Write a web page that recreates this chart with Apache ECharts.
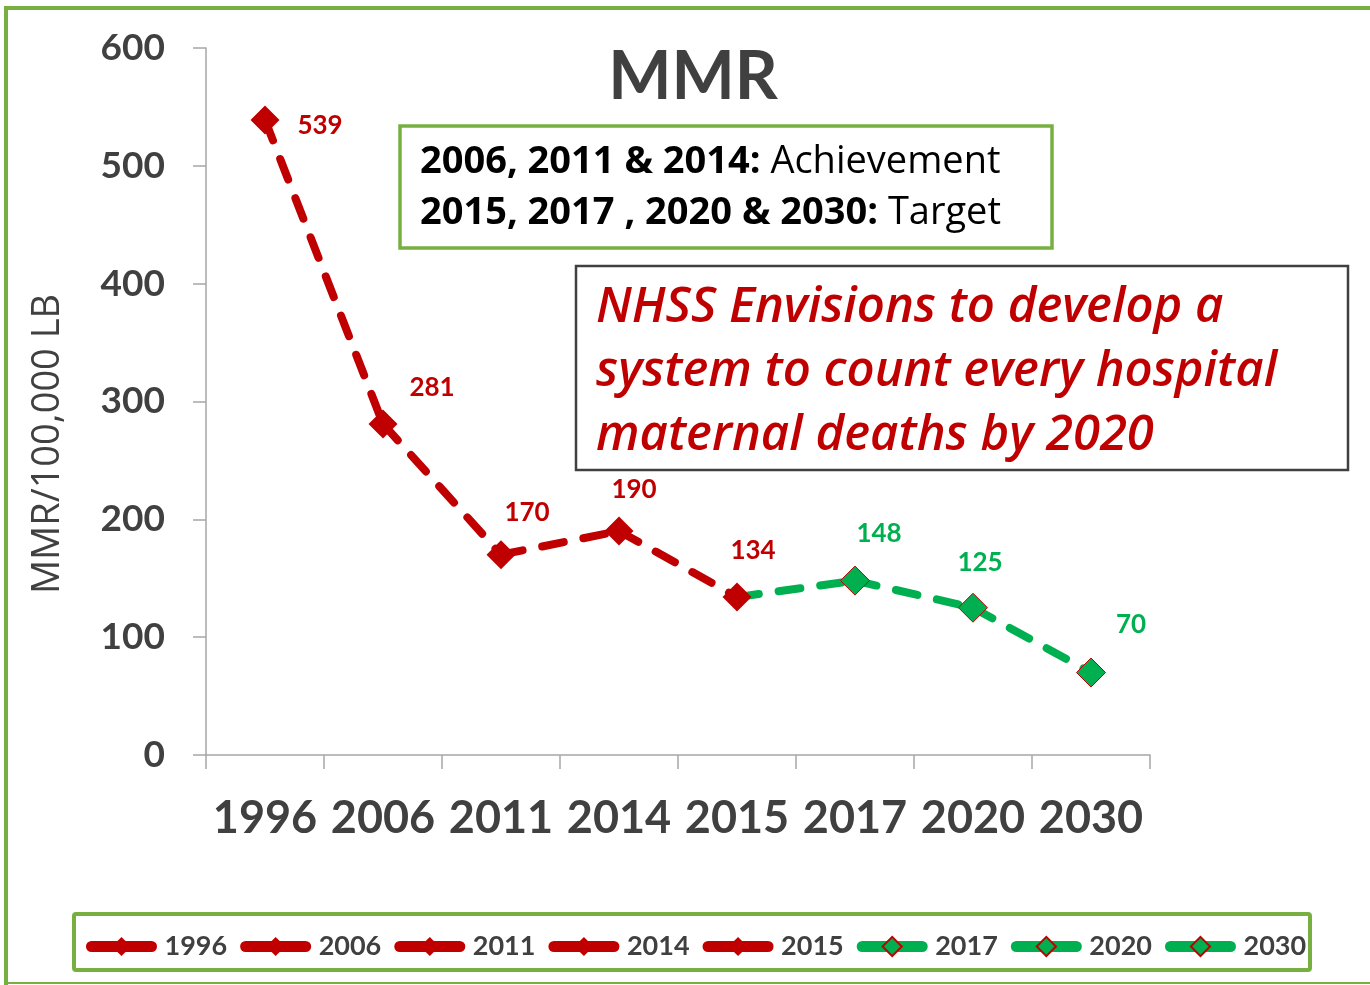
<!DOCTYPE html>
<html>
<head>
<meta charset="utf-8">
<script src="https://cdn.jsdelivr.net/npm/echarts@6/dist/echarts.min.js"></script>
<style>
  html, body { margin: 0; padding: 0; background: #fff; }
  #chart { width: 1370px; height: 985px; }
</style>
</head>
<body>
<div id="chart"></div>
<script>
// chart data
const years = ['1996', '2006', '2011', '2014', '2015', '2017', '2020', '2030'];
const mmr = [539, 281, 170, 190, 134, 148, 125, 70];
// A = achievement, T = target
const phase = ['A', 'A', 'A', 'A', 'A', 'T', 'T', 'T'];
const yMin = 0, yMax = 600, yStep = 100;

const RED = '#c00000';
const GREEN = '#00b050';
const FONT = 'Lato';
const FONT2 = 'Open Sans';

// where each value label sits relative to its marker
const labelOffsets = [[55, 6], [49, -36], [26, -42], [15, -42], [16, -46], [24, -47], [7, -45], [40, -48]];

let myChart = echarts.init(document.getElementById('chart'));

// one series per year: segment from previous point + marker at this point
var series = years.map(function (y, i) {
    var col = phase[i] === 'A' ? RED : GREEN;
    var data = years.map(function () { return '-'; });
    if (i > 0) {
        data[i - 1] = { value: mmr[i - 1], symbol: 'none', label: { show: false } };
    }
    data[i] = {
        value: mmr[i],
        label: { show: true, offset: labelOffsets[i] }
    };
    return {
        name: y,
        type: 'line',
        z: 20 - i,
        data: data,
        connectNulls: false,
        symbol: 'diamond',
        symbolSize: 29,
        showAllSymbol: true,
        lineStyle: { color: col, width: 8, type: [22, 20], cap: 'round' },
        itemStyle: {
            color: col,
            borderColor: RED,
            borderWidth: phase[i] === 'A' ? 0 : 1
        },
        label: {
            show: false,
            position: 'inside',
            color: col,
            fontFamily: FONT,
            fontWeight: 'bold',
            fontSize: 26
        },
        emphasis: { disabled: true },
        animation: false
    };
});

var boxRich = {
    b: { fontFamily: FONT2, fontSize: 38, fontWeight: 'bold', fill: '#000' },
    n: { fontFamily: FONT2, fontSize: 38, fontWeight: 'normal', fill: '#000' }
};

var option = {
    backgroundColor: '#fff',
    animation: false,
    grid: { left: 206, right: 220, top: 48, bottom: 230, containLabel: false, outerBoundsMode: 'none' },
    legend: {
        data: years,
        left: 81,
        top: 928,
        itemWidth: 60,
        itemHeight: 24,
        itemGap: 13,
        lineStyle: { type: 'solid', width: 11, cap: 'round' },
        textStyle: { fontFamily: FONT, fontSize: 27, fontWeight: 'bold', color: '#404040', padding: [0, 0, 0, 8] },
        selectedMode: false
    },
    xAxis: {
        type: 'category',
        data: years,
        boundaryGap: true,
        axisLine: { lineStyle: { color: '#a6a6a6', width: 1.5 } },
        axisTick: { show: true, interval: 0, length: 14, lineStyle: { color: '#a6a6a6', width: 1.5 } },
        axisLabel: { interval: 0, margin: 41, fontFamily: FONT, fontSize: 45, fontWeight: 'bold', color: '#404040' }
    },
    yAxis: {
        type: 'value',
        min: yMin,
        max: yMax,
        interval: yStep,
        axisLine: { show: true, lineStyle: { color: '#a6a6a6', width: 1.5 } },
        axisTick: { show: true, length: 13, lineStyle: { color: '#a6a6a6', width: 1.5 } },
        splitLine: { show: false },
        axisLabel: { margin: 41, fontFamily: FONT, fontSize: 37, fontWeight: 'bold', color: '#404040' }
    },
    graphic: [
        // outer frame
        { type: 'line', shape: { x1: 6, y1: 6, x2: 6, y2: 985 }, style: { stroke: '#77b041', lineWidth: 4 } },
        { type: 'line', shape: { x1: 4, y1: 8, x2: 1370, y2: 8 }, style: { stroke: '#77b041', lineWidth: 4 } },
        { type: 'line', shape: { x1: 4, y1: 983, x2: 1370, y2: 983 }, style: { stroke: '#77b041', lineWidth: 2 } },
        // legend frame
        { type: 'rect', shape: { x: 74, y: 914, width: 1236, height: 56, r: 2 }, style: { fill: 'none', stroke: '#77b041', lineWidth: 4 }, z: 1 },
        // title
        { type: 'text', x: 693, y: 77, style: { text: 'MMR', fontFamily: FONT, fontSize: 67, fontWeight: 'bold', fill: '#404040', align: 'center', verticalAlign: 'middle' } },
        // y axis name
        { type: 'text', x: 48, y: 444, rotation: Math.PI / 2, style: { text: 'MMR/100,000 LB', fontFamily: FONT2, fontSize: 38, fill: '#404040', align: 'center', verticalAlign: 'middle' } },
        // achievement / target box
        { type: 'rect', shape: { x: 400, y: 126, width: 652, height: 122 }, style: { fill: '#fff', stroke: '#77b041', lineWidth: 3.5 }, z: 30 },
        {
            type: 'text', x: 420, y: 162, z: 31,
            style: { text: '{b|2006, 2011 & 2014: }{n|Achievement}', verticalAlign: 'middle', rich: boxRich }
        },
        {
            type: 'text', x: 420, y: 213, z: 31,
            style: { text: '{b|2015, 2017 , 2020 & 2030: }{n|Target}', verticalAlign: 'middle', rich: boxRich }
        },
        // NHSS note box
        { type: 'rect', shape: { x: 576, y: 266, width: 772, height: 204 }, style: { fill: '#fff', stroke: '#404040', lineWidth: 2.5 }, z: 30 },
        {
            type: 'text', x: 596, y: 276, z: 31,
            style: {
                text: 'NHSS Envisions to develop a\nsystem to count every hospital\nmaternal deaths by 2020',
                fontFamily: FONT2, fontSize: 49, fontStyle: 'italic', fontWeight: 600,
                fill: RED, lineHeight: 64, verticalAlign: 'top'
            }
        }
    ],
    series: series
};

myChart.setOption(option);
window.addEventListener('resize', function () { myChart.resize(); });
</script>
</body>
</html>
